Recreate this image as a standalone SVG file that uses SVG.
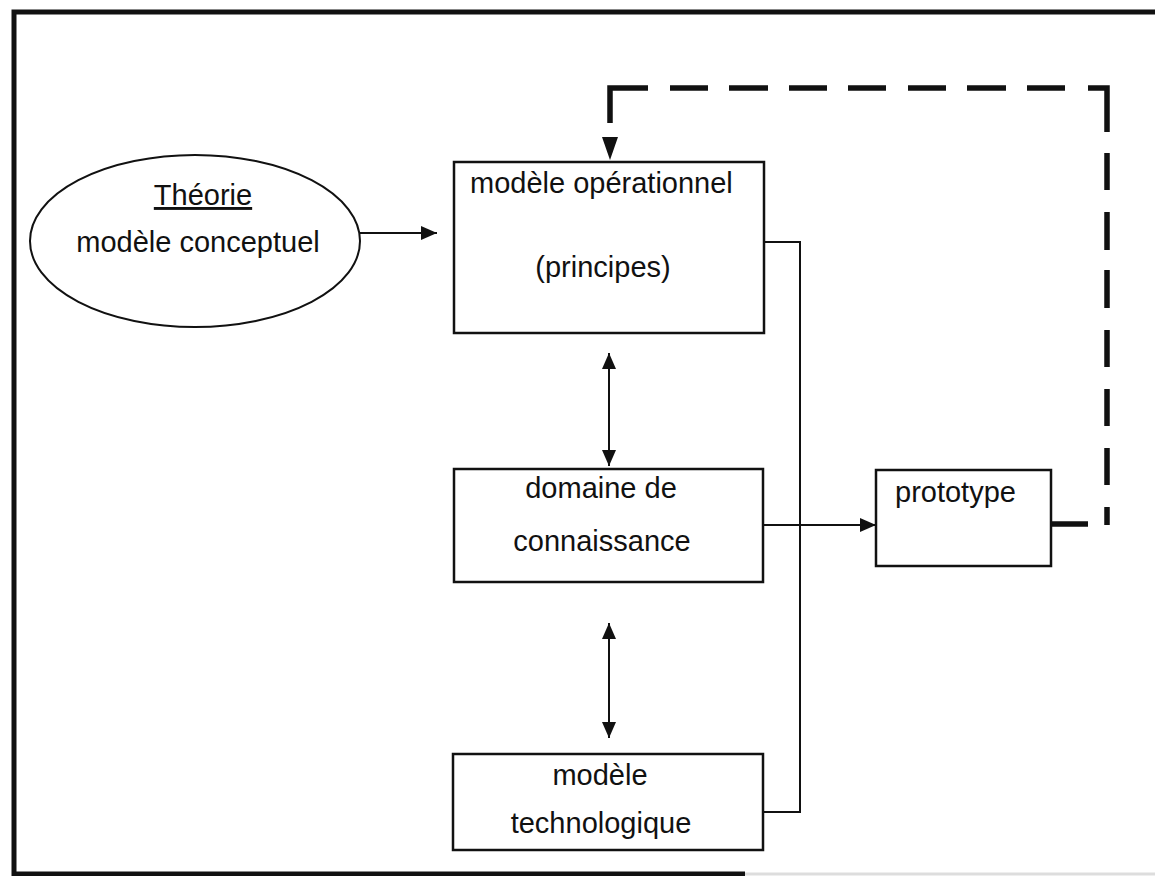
<svg xmlns="http://www.w3.org/2000/svg" width="1155" height="876" viewBox="0 0 1155 876">
  <defs>
    <style>
      .frame { stroke: #111; stroke-width: 5; fill: none; }
      .node { fill: #fff; stroke: #111; stroke-width: 2.5; }
      .label { font-family: "Liberation Sans", Arial, Helvetica, sans-serif; font-size: 29px; fill: #111; }
      .mid { text-anchor: middle; }
      .link { stroke: #111; stroke-width: 2; fill: none; }
      .feedback { stroke: #111; stroke-width: 5.5; fill: none; stroke-linecap: butt; stroke-linejoin: miter; }
    </style>
    <marker id="head" markerUnits="userSpaceOnUse" markerWidth="16" markerHeight="14" refX="16" refY="7" orient="auto-start-reverse" viewBox="0 0 16 14">
      <path d="M0,0 L16,7 L0,14 Z" fill="#111"/>
    </marker>
  </defs>

  <rect width="1155" height="876" fill="#fff"/>

  <!-- page frame -->
  <g id="frame">
    <path class="frame" d="M14,876 V12 H1155"/>
    <path class="frame" d="M12,874 H745"/>
    <path d="M745,874 H1155" stroke="#ddd" stroke-width="3"/>
  </g>

  <!-- connectors -->
  <g id="connectors">
    <!-- theory to operational model -->
    <line class="link" x1="360" y1="233" x2="437" y2="233" marker-end="url(#head)"/>
    <!-- operational model <-> knowledge domain -->
    <line class="link" x1="609" y1="353" x2="609" y2="466" marker-start="url(#head)" marker-end="url(#head)"/>
    <!-- knowledge domain <-> technological model -->
    <line class="link" x1="609" y1="623" x2="609" y2="738" marker-start="url(#head)" marker-end="url(#head)"/>
    <!-- bracket joining operational and technological models -->
    <path class="link" d="M764,242 H800 V812 H763"/>
    <!-- knowledge domain to prototype -->
    <line class="link" x1="763" y1="525" x2="876" y2="525" marker-end="url(#head)"/>
    <!-- feedback loop from prototype back to operational model -->
    <path class="feedback" d="M610,123 V88 H648
      M670,88 H708 M729,88 H768 M789,88 H827 M848,88 H886
      M908,88 H946 M967,88 H1006 M1027,88 H1065
      M1088,88 H1107 V132
      M1107,153 V190 M1107,212 V250 M1107,270 V308 M1107,330 V367
      M1107,389 V426 M1107,448 V485 M1107,507 V525
      M1051,524 H1088"/>
    <path d="M602,137 L618,137 L610,160 Z" fill="#111"/>
  </g>

  <!-- nodes -->
  <g id="theorie">
    <ellipse cx="195" cy="241" rx="165" ry="86" fill="#fff" stroke="#111" stroke-width="2"/>
    <text class="label mid" x="203" y="205" text-decoration="underline">Théorie</text>
    <text class="label mid" x="198" y="252">modèle conceptuel</text>
  </g>

  <g id="modele-operationnel">
    <rect class="node" x="454" y="162" width="310" height="171"/>
    <text class="label" x="470" y="193">modèle opérationnel</text>
    <text class="label mid" x="603" y="277">(principes)</text>
  </g>

  <g id="domaine">
    <rect class="node" x="454" y="469" width="309" height="113"/>
    <text class="label mid" x="601" y="498">domaine de</text>
    <text class="label mid" x="602" y="551">connaissance</text>
  </g>

  <g id="modele-technologique">
    <rect class="node" x="453" y="754" width="310" height="96"/>
    <text class="label mid" x="600" y="785">modèle</text>
    <text class="label mid" x="601" y="833">technologique</text>
  </g>

  <g id="prototype">
    <rect class="node" x="876" y="470" width="175" height="96"/>
    <text class="label" x="895" y="502">prototype</text>
  </g>
</svg>
